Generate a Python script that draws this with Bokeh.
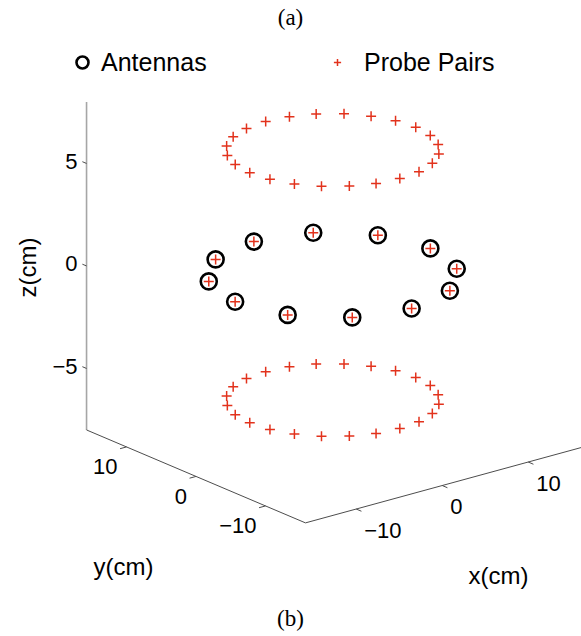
import numpy as np
from bokeh.plotting import figure
from bokeh.models import Range1d, ColumnDataSource, Legend, LegendItem, Label
from bokeh.core.properties import value
from bokeh.embed import file_html
from bokeh.resources import INLINE

# ---------------- data ----------------
ANT_ANGLE_DEG = [0, 30, 60, 90, 120, 150, 180, 210, 240, 270, 300, 330]
ANT_RADIUS_CM = 11.35
ANT_Z_CM = 0.0

PROBE_RING_ANGLE_DEG = [0, 15, 30, 45, 60, 75, 90, 105, 120, 135, 150, 165,
                        180, 195, 210, 225, 240, 255, 270, 285, 300, 315, 330, 345]
PROBE_RING_RADIUS_CM = 9.65
PROBE_RING_Z_CM = [6.1, -6.1]

X_LIM = [-15.9, 16.2]
Y_LIM = [-15.75, 15.75]
Z_LIM = [-8.0, 8.0]
X_TICKS = [-10, 0, 10]
Y_TICKS = [-10, 0, 10]
Z_TICKS = [-5, 0, 5]
X_TICK_LABELS = ["\u221210", "0", "10"]
Y_TICK_LABELS = ["\u221210", "0", "10"]
Z_TICK_LABELS = ["\u22125", "0", "5"]

# ---------------- view (orthographic projection, px per cm) ----------------
W, H = 581, 636
ORIGIN = (332.25, 274.56)
EX = (8.6, -2.35)
EY = (-6.95, -2.95)
EZ = (0.0, -20.5)


def proj(x, y, z):
    x = np.asarray(x, float)
    y = np.asarray(y, float)
    z = np.asarray(z, float)
    sx = ORIGIN[0] + x * EX[0] + y * EY[0] + z * EZ[0]
    sy = ORIGIN[1] + x * EX[1] + y * EY[1] + z * EZ[1]
    return sx, sy


p = figure(width=W, height=H, output_backend="svg", toolbar_location=None,
           x_range=Range1d(0, W), y_range=Range1d(H, 0),
           x_axis_location=None, y_axis_location=None, min_border=0)
p.grid.visible = False
p.outline_line_color = None
p.background_fill_color = "white"

FONT_NAME = "Liberation Sans"
FONT = value(FONT_NAME)
AX_COL = "#4d4d4d"

# ---------------- axes ----------------
zx, zy = proj([X_LIM[0]] * 2, [Y_LIM[1]] * 2, Z_LIM)
p.line(zx, zy, line_color="#a6a6a6", line_width=1.6)
yx, yy = proj([X_LIM[0]] * 2, Y_LIM, [Z_LIM[0]] * 2)
p.line(yx, yy, line_color=AX_COL, line_width=1)
xx, xy = proj(X_LIM, [Y_LIM[0]] * 2, [Z_LIM[0]] * 2)
p.line(xx, xy, line_color=AX_COL, line_width=1)

TL = 0.75
n = len(X_TICKS)
x0s, y0s = proj(X_TICKS, [Y_LIM[0]] * n, [Z_LIM[0]] * n)
x1s, y1s = proj(X_TICKS, [Y_LIM[0] - TL] * n, [Z_LIM[0]] * n)
p.segment(x0s, y0s, x1s, y1s, line_color=AX_COL, line_width=1)
p.text(x0s, y0s, text=X_TICK_LABELS, text_font=FONT, text_font_size="22px",
       text_align="left", text_baseline="middle", x_offset=8, y_offset=21,
       text_color="black")
n = len(Y_TICKS)
x0s, y0s = proj([X_LIM[0]] * n, Y_TICKS, [Z_LIM[0]] * n)
x1s, y1s = proj([X_LIM[0] - TL] * n, Y_TICKS, [Z_LIM[0]] * n)
p.segment(x0s, y0s, x1s, y1s, line_color=AX_COL, line_width=1)
p.text(x0s, y0s, text=Y_TICK_LABELS, text_font=FONT, text_font_size="22px",
       text_align="right", text_baseline="middle", x_offset=-9, y_offset=20,
       text_color="black")
n = len(Z_TICKS)
x0s, y0s = proj([X_LIM[0]] * n, [Y_LIM[1]] * n, Z_TICKS)
x1s, y1s = proj([X_LIM[0]] * n, [Y_LIM[1] + 0.6] * n, Z_TICKS)
p.segment(x0s, y0s, x1s, y1s, line_color=AX_COL, line_width=1)
p.text(x0s, y0s, text=Z_TICK_LABELS, text_font=FONT, text_font_size="22px",
       text_align="right", text_baseline="middle", x_offset=-9, y_offset=-2,
       text_color="black")

# ---------------- data marks ----------------
ant_th = np.deg2rad(ANT_ANGLE_DEG)
ax_, ay_ = proj(ANT_RADIUS_CM * np.cos(ant_th), ANT_RADIUS_CM * np.sin(ant_th),
                [ANT_Z_CM] * len(ANT_ANGLE_DEG))

pr_th = np.deg2rad(PROBE_RING_ANGLE_DEG)
px_list, py_list = [], []
for zc in PROBE_RING_Z_CM:
    sx, sy = proj(PROBE_RING_RADIUS_CM * np.cos(pr_th),
                  PROBE_RING_RADIUS_CM * np.sin(pr_th),
                  [zc] * len(PROBE_RING_ANGLE_DEG))
    px_list.append(sx)
    py_list.append(sy)
px_list.append(ax_)
py_list.append(ay_)
probe_src = ColumnDataSource(dict(x=np.concatenate(px_list), y=np.concatenate(py_list)))
ant_src = ColumnDataSource(dict(x=ax_, y=ay_))

r_ant = p.scatter("x", "y", source=ant_src, marker="circle", size=16,
                  fill_color=None, line_color="black", line_width=2.6)
r_probe = p.scatter("x", "y", source=probe_src, marker="cross", size=10,
                    line_color="#e2321c", line_width=1.5)

# ---------------- legends ----------------
leg1 = Legend(items=[LegendItem(label="Antennas", renderers=[r_ant])],
              location=(67, H - 77), orientation="horizontal",
              glyph_width=30, glyph_height=30, label_height=30, label_standoff=4,
              label_text_font=FONT_NAME, label_text_font_size="25px",
              label_text_color="black",
              padding=0, margin=0, border_line_alpha=0, background_fill_alpha=0)
leg2 = Legend(items=[LegendItem(label="Probe Pairs", renderers=[r_probe])],
              location=(328, H - 77), orientation="horizontal",
              glyph_width=18, glyph_height=30, label_height=30, label_standoff=18,
              label_text_font=FONT_NAME, label_text_font_size="25px",
              label_text_color="black",
              padding=0, margin=0, border_line_alpha=0, background_fill_alpha=0)
p.add_layout(leg1)
p.add_layout(leg2)

# ---------------- axis titles and panel captions ----------------
p.add_layout(Label(x=27, y=H - 267, x_units="screen", y_units="screen", text="z(cm)",
                   angle=np.pi / 2, text_align="center", text_baseline="middle",
                   text_font=FONT_NAME, text_font_size="24px", text_color="black"))
p.add_layout(Label(x=123, y=H - 566, x_units="screen", y_units="screen", text="y(cm)",
                   text_align="center", text_baseline="middle",
                   text_font=FONT_NAME, text_font_size="24px", text_color="black"))
p.add_layout(Label(x=498, y=H - 575, x_units="screen", y_units="screen", text="x(cm)",
                   text_align="center", text_baseline="middle",
                   text_font=FONT_NAME, text_font_size="24px", text_color="black"))
p.add_layout(Label(x=290, y=H - 17, x_units="screen", y_units="screen", text="(a)",
                   text_align="center", text_baseline="middle",
                   text_font="Liberation Serif", text_font_size="23px", text_color="black"))
p.add_layout(Label(x=290, y=H - 618, x_units="screen", y_units="screen", text="(b)",
                   text_align="center", text_baseline="middle",
                   text_font="Liberation Serif", text_font_size="23px", text_color="black"))

open("out.html", "w").write(file_html(p, INLINE))
